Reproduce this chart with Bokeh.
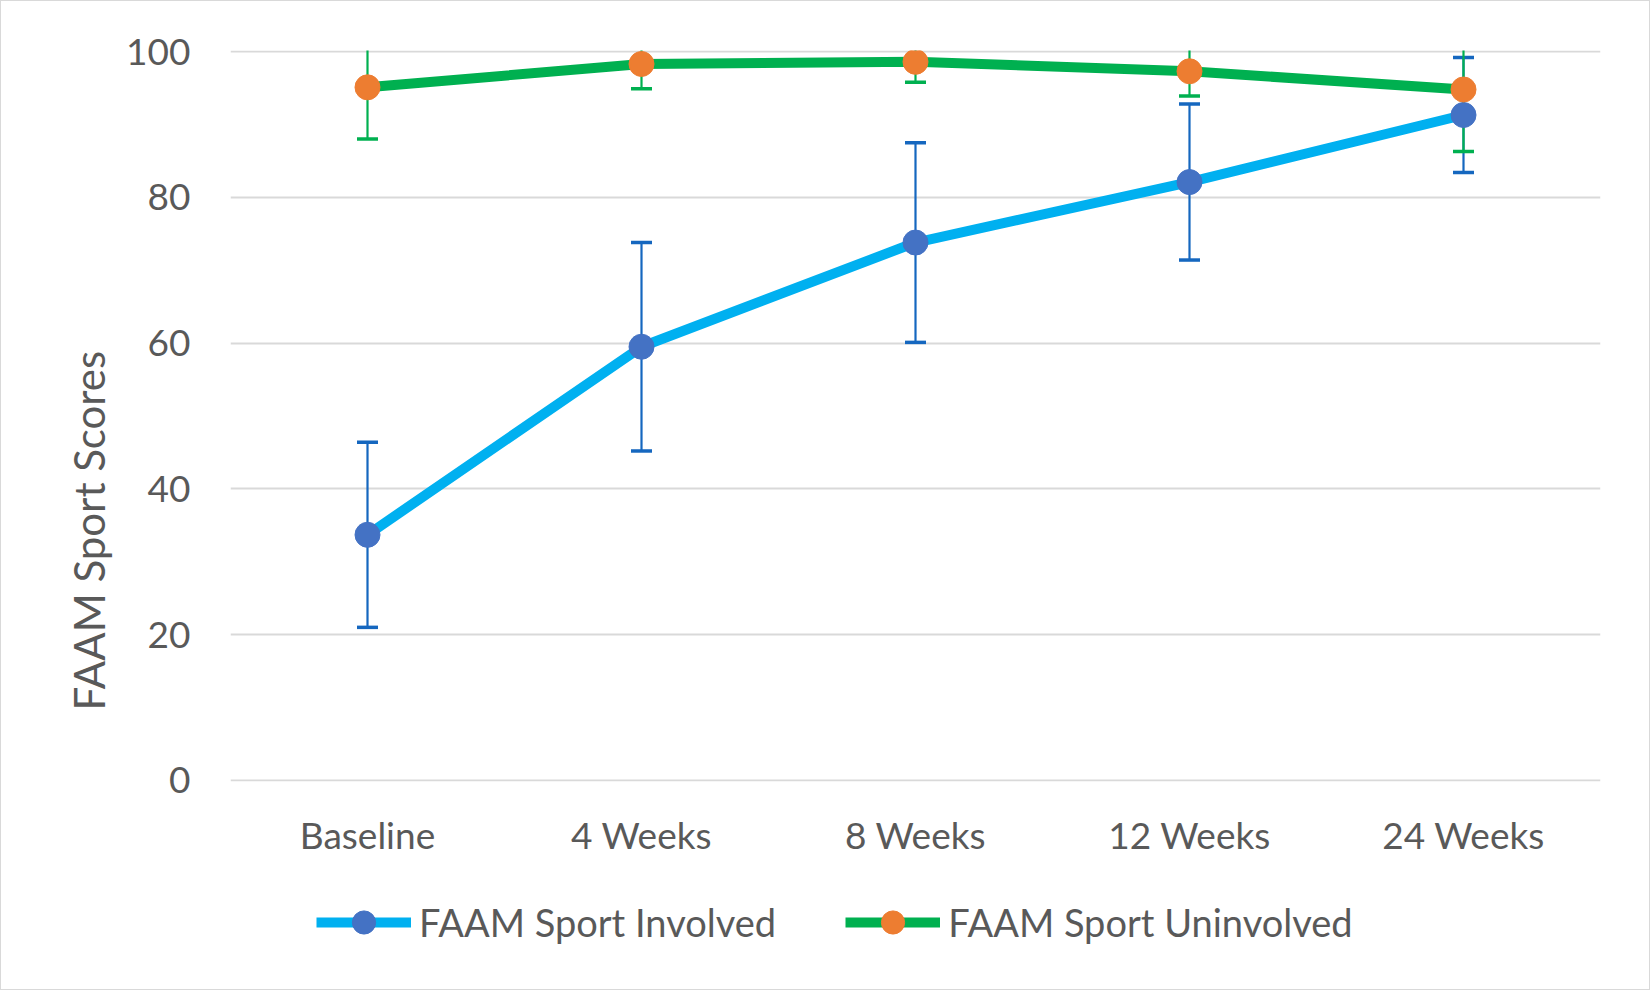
import math
from bokeh.plotting import figure
from bokeh.layouts import column
from bokeh.models import ColumnDataSource, Legend, LegendItem, Title, FactorRange
from bokeh.embed import file_html
from bokeh.resources import INLINE

categories = ["Baseline", "4 Weeks", "8 Weeks", "12 Weeks", "24 Weeks"]
involved_mean = [33.7, 59.5, 73.8, 82.1, 91.3]
involved_err = [12.7, 14.3, 13.7, 10.7, 7.9]
uninvolved_mean = [95.1, 98.3, 98.6, 97.3, 94.8]
uninvolved_err = [7.1, 3.4, 2.8, 3.4, 8.5]
y_ticks = [0, 20, 40, 60, 80, 100]
series_labels = ["FAAM Sport Involved", "FAAM Sport Uninvolved"]

FONT = "Lato"
TXT = "#595959"
INV_LINE, INV_MARK, INV_ERR = "#00B0F0", "#4472C4", "#1567BF"
UN_LINE, UN_MARK, UN_ERR = "#00B050", "#ED7D31", "#00B050"

src_inv = ColumnDataSource(dict(
    x=categories, y=involved_mean,
    lo=[m - e for m, e in zip(involved_mean, involved_err)],
    hi=[m + e for m, e in zip(involved_mean, involved_err)],
))
src_un = ColumnDataSource(dict(
    x=categories, y=uninvolved_mean,
    lo=[m - e for m, e in zip(uninvolved_mean, uninvolved_err)],
    hi=[m + e for m, e in zip(uninvolved_mean, uninvolved_err)],
))

W = 1648
p = figure(x_range=FactorRange(*categories), y_range=(-0.15, 100.15),
           width=W, height=870, output_backend="svg", toolbar_location=None,
           min_border_left=229, min_border_right=49, min_border_top=49, min_border_bottom=90)
p.outline_line_color = None
p.xgrid.grid_line_color = None
p.ygrid.grid_line_color = "#D9D9D9"
p.ygrid.grid_line_width = 2
p.yaxis.ticker = y_ticks
for ax in (p.xaxis, p.yaxis):
    ax.axis_line_color = None
    ax.major_tick_line_color = None
    ax.minor_tick_line_color = None
    ax.major_label_text_font = FONT
    ax.major_label_text_font_size = "37px"
    ax.major_label_text_color = TXT
p.yaxis.major_label_standoff = 34
p.xaxis.major_label_standoff = 24

# error bars
for src, col in ((src_inv, INV_ERR), (src_un, UN_ERR)):
    p.segment(x0="x", y0="lo", x1="x", y1="hi", source=src, line_color=col, line_width=2.2)
    p.scatter(x="x", y="lo", source=src, marker="dash", size=21, line_color=col, line_width=3.5)
    p.scatter(x="x", y="hi", source=src, marker="dash", size=21, line_color=col, line_width=3.5)

p.line(x="x", y="y", source=src_inv, line_color=INV_LINE, line_width=10)
p.line(x="x", y="y", source=src_un, line_color=UN_LINE, line_width=10)
p.scatter(x="x", y="y", source=src_inv, marker="circle", size=25, fill_color=INV_MARK, line_color=INV_MARK)
p.scatter(x="x", y="y", source=src_un, marker="circle", size=25, fill_color=UN_MARK, line_color=UN_MARK)

ytitle = Title(text="FAAM Sport Scores", align="left", offset=71,
               text_font=FONT, text_font_size="42px", text_color=TXT,
               text_font_style="normal", standoff=20)
p.add_layout(ytitle, "left")

# legend strip below the chart: same series, drawn outside its visible y range
q = figure(width=W, height=988 - 870, output_backend="svg", toolbar_location=None,
           x_range=FactorRange(*categories), y_range=(1000, 2000), min_border=0)
q.axis.visible = False
q.grid.visible = False
q.outline_line_color = None
li = q.line(x="x", y="y", source=src_inv, line_color=INV_LINE, line_width=10)
mi = q.scatter(x="x", y="y", source=src_inv, marker="circle", size=25,
               fill_color=INV_MARK, line_color=INV_MARK)
lu = q.line(x="x", y="y", source=src_un, line_color=UN_LINE, line_width=10)
mu = q.scatter(x="x", y="y", source=src_un, marker="circle", size=25,
               fill_color=UN_MARK, line_color=UN_MARK)
legend = Legend(items=[
    LegendItem(label=series_labels[0], renderers=[li, mi]),
    LegendItem(label=series_labels[1], renderers=[lu, mu]),
], orientation="horizontal", location=(86, 38))
legend.glyph_width = 95
legend.glyph_height = 58
legend.label_standoff = 8
legend.spacing = 69
legend.padding = 0
legend.margin = 0
legend.border_line_color = None
legend.background_fill_alpha = 0
legend.label_text_font = FONT
legend.label_text_font_size = "38px"
legend.label_text_color = TXT
q.add_layout(legend, "center")

layout = column(p, q, spacing=0)
layout.styles = {"border": "1px solid #D9D9D9"}
open("out.html", "w").write(file_html(layout, INLINE))
